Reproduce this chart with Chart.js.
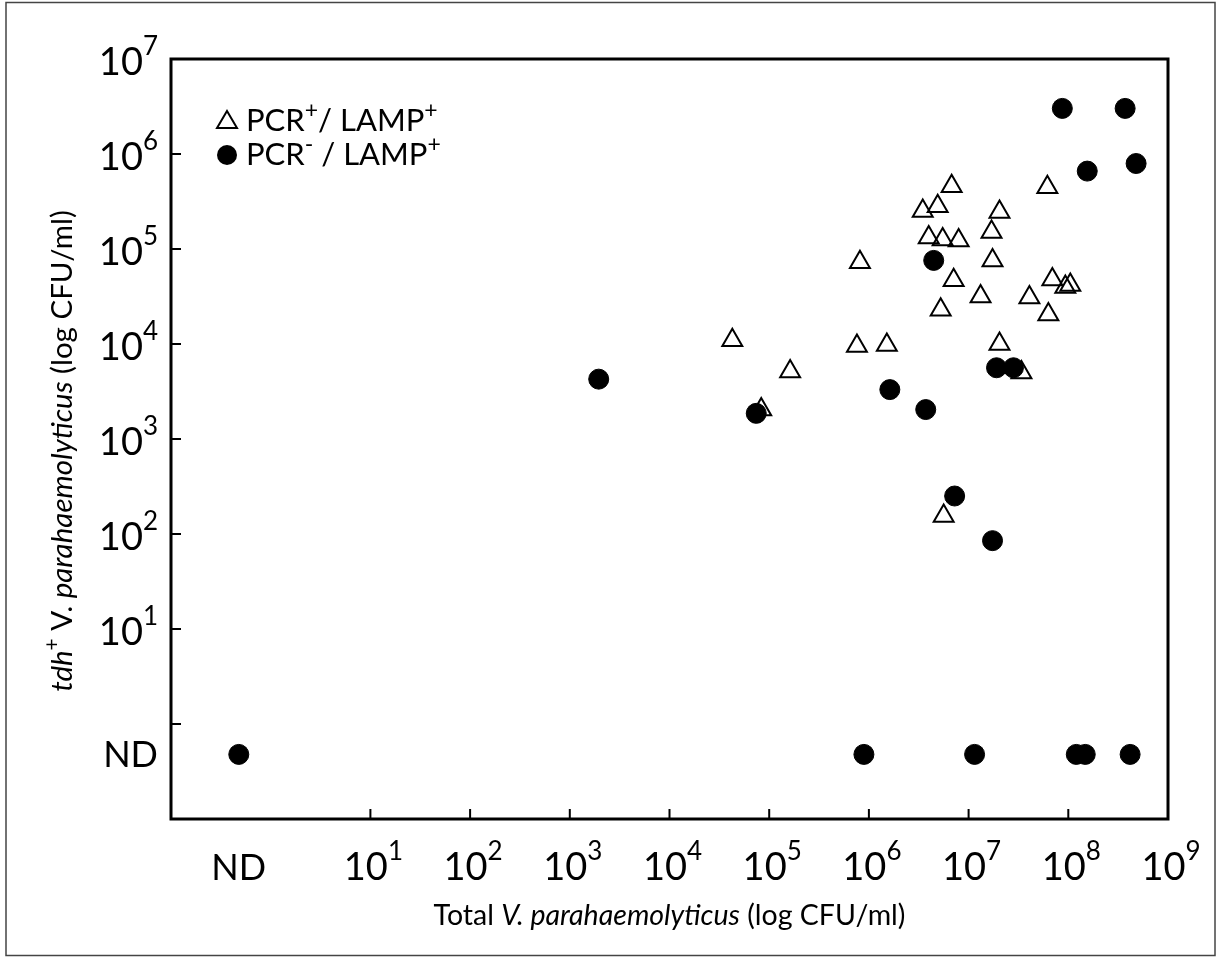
<!DOCTYPE html>
<html>
<head>
<meta charset="utf-8">
<title>tdh+ vs total V. parahaemolyticus</title>
<script src="https://cdn.jsdelivr.net/npm/chart.js@4.4.1/dist/chart.umd.min.js"></script>
<style>
  html, body { margin: 0; padding: 0; background: #fff; }
  #wrap { width: 1219px; height: 962px; }
</style>
</head>
<body>
<div id="wrap"><canvas id="chart" width="1219" height="962"></canvas></div>
<script>
// all values are log10(CFU/ml); null = not detected (ND)
const ND_POS = -0.32;

// PCR+ / LAMP+ (open triangles)
const posTotal = [4.63, 4.92, 5.21, 5.88, 5.91, 6.18, 6.54, 6.60, 6.69, 6.72, 6.74, 6.75, 6.83, 6.85,
  6.90, 7.12, 7.23, 7.24, 7.31, 7.31, 7.53, 7.61, 7.79, 7.80, 7.84, 7.97, 8.02];
const posTdh = [4.04, 3.31, 3.71, 3.98, 4.86, 3.99, 5.40, 5.12, 5.45, 4.36, 5.10, 2.19, 5.66, 4.67,
  5.09, 4.50, 5.18, 4.88, 5.39, 4.00, 3.70, 4.49, 5.65, 4.31, 4.68, 4.60, 4.62];

// PCR- / LAMP+ (filled circles)
const negTotal = [null, 3.29, 4.87, 5.95, 6.21, 6.57, 6.65, 6.86, 7.06, 7.24, 7.28, 7.45, 7.94,
  8.08, 8.17, 8.19, 8.57, 8.62, 8.68];
const negTdh = [null, 3.63, 3.27, null, 3.52, 3.31, 4.88, 2.40, null, 1.93, 3.75, 3.75, 6.48,
  null, null, 5.82, 6.48, null, 5.90];

const xLabelExps = [1, 2, 3, 4, 5, 6, 7, 8, 9];
const yLabelExps = [1, 2, 3, 4, 5, 6, 7];
const xTickMarks = [1, 2, 3, 4, 5, 6, 7, 8];
const yTickMarks = [0, 1, 2, 3, 4, 5, 6];

const FONT = 'Lato, "Open Sans", sans-serif';

const toPoints = (xs, ys) => xs.map((v, i) => ({
  x: v === null ? ND_POS : v,
  y: ys[i] === null ? ND_POS : ys[i]
}));

function fontOf(p) {
  return (p.italic ? 'italic ' : '') + (p.size || 28.5) + 'px ' + FONT;
}

// draws a row of text pieces (italic / superscript) from one baseline
function drawRich(ctx, parts, x, y, align) {
  let w = 0;
  parts.forEach(p => { ctx.font = fontOf(p); w += ctx.measureText(p.t).width; });
  let cx = align === 'center' ? x - w / 2 : align === 'right' ? x - w : x;
  ctx.textAlign = 'left';
  ctx.textBaseline = 'alphabetic';
  parts.forEach(p => {
    ctx.font = fontOf(p);
    ctx.fillText(p.t, cx, y - (p.rise || 0));
    cx += ctx.measureText(p.t).width;
  });
}

const pow10 = e => [{ t: '10', size: 38 }, { t: String(e), size: 26, rise: 20 }];

const decor = {
  id: 'decor',
  afterDraw(chart) {
    const { ctx, chartArea: a, scales: { x, y } } = chart;
    ctx.save();
    ctx.fillStyle = '#000';

    // outer figure frame
    ctx.strokeStyle = '#444';
    ctx.lineWidth = 1.5;
    ctx.strokeRect(6, 2.5, 1209, 953);

    // plot box
    ctx.strokeStyle = '#000';
    ctx.lineWidth = 3;
    ctx.strokeRect(a.left, a.top, a.right - a.left, a.bottom - a.top);

    // inward tick marks
    ctx.lineWidth = 2;
    ctx.beginPath();
    xTickMarks.forEach(v => {
      const px = x.getPixelForValue(v);
      ctx.moveTo(px, a.bottom);
      ctx.lineTo(px, a.bottom - 10);
    });
    yTickMarks.forEach(v => {
      const py = y.getPixelForValue(v);
      ctx.moveTo(a.left, py);
      ctx.lineTo(a.left + 10, py);
    });
    ctx.stroke();

    // tick labels
    xLabelExps.forEach(e => drawRich(ctx, pow10(e), x.getPixelForValue(e) + 3, a.bottom + 61, 'center'));
    drawRich(ctx, [{ t: 'ND', size: 36 }], x.getPixelForValue(ND_POS), a.bottom + 61, 'center');
    yLabelExps.forEach(e => drawRich(ctx, pow10(e), a.left - 13, y.getPixelForValue(e) + 16, 'right'));
    drawRich(ctx, [{ t: 'ND', size: 36 }], a.left - 13, y.getPixelForValue(ND_POS) + 13, 'right');

    // axis titles
    drawRich(ctx, [
      { t: 'Total ' }, { t: 'V. parahaemolyticus', italic: true }, { t: ' (log CFU/ml)' }
    ], (a.left + a.right) / 2, a.bottom + 106, 'center');

    ctx.save();
    ctx.translate(72, (a.top + a.bottom) / 2 + 12);
    ctx.rotate(-Math.PI / 2);
    drawRich(ctx, [
      { t: 'tdh', italic: true, size: 29.5 }, { t: '+', size: 21, rise: 13 },
      { t: ' V. ', size: 29.5 }, { t: 'parahaemolyticus', italic: true, size: 29.5 },
      { t: ' (log CFU/ml)', size: 29.5 }
    ], 0, 0, 'center');
    ctx.restore();

    // legend
    const lx = 227;
    ctx.lineWidth = 2;
    ctx.beginPath();
    ctx.moveTo(lx, 111);
    ctx.lineTo(lx + 10, 128);
    ctx.lineTo(lx - 10, 128);
    ctx.closePath();
    ctx.stroke();
    ctx.beginPath();
    ctx.arc(lx, 155, 10, 0, Math.PI * 2);
    ctx.fill();
    drawRich(ctx, [
      { t: 'PCR', size: 31 }, { t: '+', size: 23, rise: 13 }, { t: '/ LAMP', size: 31 }, { t: '+', size: 23, rise: 13 }
    ], 246, 131, 'left');
    drawRich(ctx, [
      { t: 'PCR', size: 31 }, { t: '-', size: 23, rise: 13 }, { t: ' / LAMP', size: 31 }, { t: '+', size: 23, rise: 13 }
    ], 246, 165, 'left');

    ctx.restore();
  }
};

new Chart(document.getElementById('chart'), {
  type: 'scatter',
  data: {
    datasets: [
      {
        label: 'PCR- / LAMP+',
        data: toPoints(negTotal, negTdh),
        pointStyle: 'circle',
        pointRadius: 10,
        backgroundColor: '#000',
        borderColor: '#000',
        borderWidth: 1,
        order: 0
      },
      {
        label: 'PCR+ / LAMP+',
        data: toPoints(posTotal, posTdh),
        pointStyle: 'triangle',
        pointRadius: 11.5,
        backgroundColor: 'rgba(0,0,0,0)',
        borderColor: '#000',
        borderWidth: 2,
        order: 1
      }
    ]
  },
  options: {
    responsive: false,
    animation: false,
    devicePixelRatio: 1,
    layout: { padding: { left: 171, top: 59, right: 51, bottom: 143 } },
    scales: {
      x: { type: 'linear', min: -1, max: 9, display: false },
      y: { type: 'linear', min: -1, max: 7, display: false }
    },
    plugins: {
      legend: { display: false },
      tooltip: { enabled: false }
    }
  },
  plugins: [decor]
});
</script>
</body>
</html>
